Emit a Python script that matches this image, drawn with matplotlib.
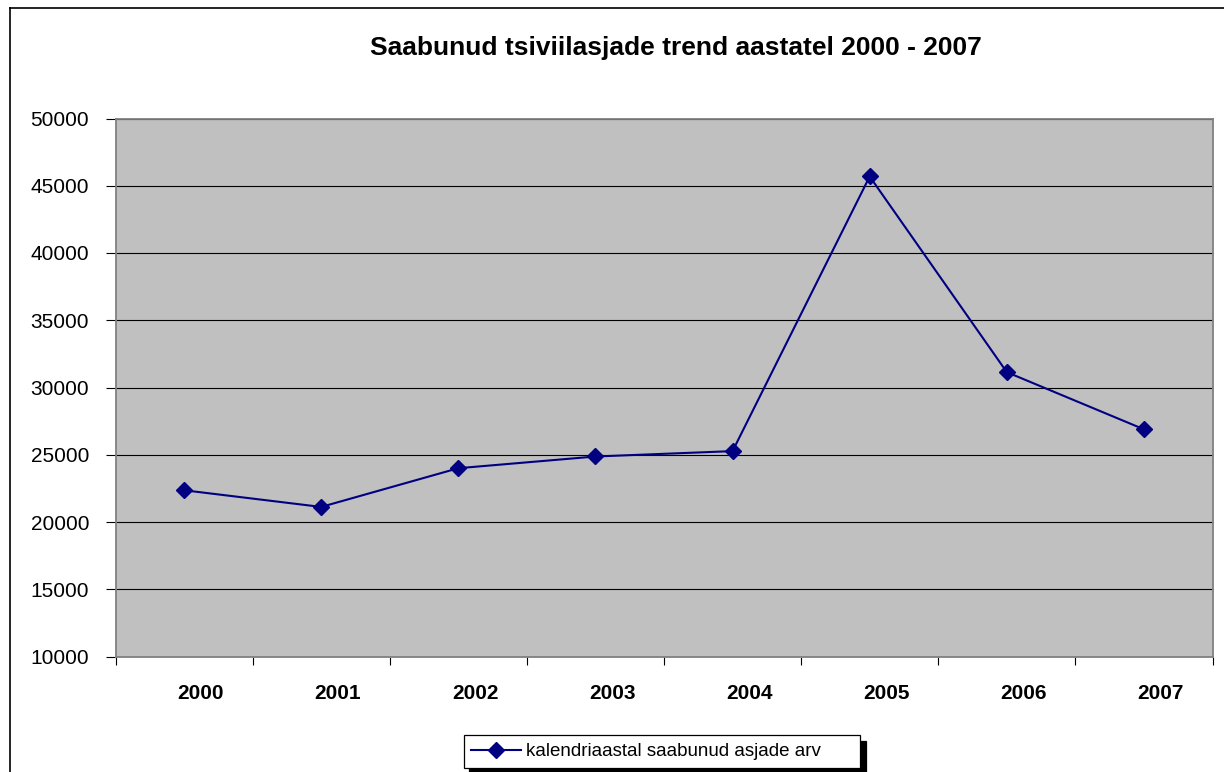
import matplotlib
matplotlib.use("Agg")
import matplotlib.pyplot as plt
from matplotlib.ticker import FixedLocator, NullFormatter
from matplotlib.lines import Line2D
from matplotlib.transforms import ScaledTranslation

years = ["2000", "2001", "2002", "2003", "2004", "2005", "2006", "2007"]
cases = [22360, 21120, 24000, 24870, 25270, 45690, 31140, 26890]
series_label = "kalendriaastal saabunud asjade arv"
title = "Saabunud tsiviilasjade trend aastatel 2000 - 2007"
y_ticks = [10000, 15000, 20000, 25000, 30000, 35000, 40000, 45000, 50000]

plt.rcParams['font.family'] = ['Liberation Sans', 'DejaVu Sans']

W, H = 1224, 772
fig = plt.figure(figsize=(W / 100, H / 100), dpi=100)
fig.patch.set_facecolor("white")

def fx(px):
    return px / W

def fy(py):
    return 1 - py / H

left, right, top, bottom = 115.5, 1212.5, 118.5, 656.5
ax = fig.add_axes([fx(left), fy(bottom), fx(right) - fx(left), fy(top) - fy(bottom)])
ax.set_facecolor("#C0C0C0")

x = list(range(len(years)))
ax.plot(x, cases, color="#000080", linewidth=1.5, marker="D", markersize=8,
        markerfacecolor="#000080", markeredgecolor="#000080", zorder=3,
        label=series_label + "      ")

ax.set_xlim(-0.5, len(years) - 0.5)
ax.set_ylim(10000, 50000)
ax.set_yticks(y_ticks)
ax.set_yticklabels([str(v) for v in y_ticks], fontsize=15)
ax.yaxis.grid(True, color="black", linewidth=0.8)
ax.set_axisbelow(True)
ax.tick_params(axis="y", length=7, width=0.8, color="black", pad=12)

ax.set_xticks(x)
ax.set_xticklabels(years, fontsize=15, fontweight="bold")
ax.tick_params(axis="x", which="major", length=0, pad=20)
shift = ScaledTranslation(0.167, 0, fig.dpi_scale_trans)
for lab in ax.get_xticklabels():
    lab.set_transform(lab.get_transform() + shift)
ax.xaxis.set_minor_locator(FixedLocator([i - 0.5 for i in range(len(years) + 1)]))
ax.xaxis.set_minor_formatter(NullFormatter())
ax.tick_params(axis="x", which="minor", length=5.5, width=0.8, color="black")

for s in ax.spines.values():
    s.set_color("#808080")
    s.set_linewidth(1.3)

fig.text(fx(676), fy(55), title, ha="center", va="baseline", fontsize=19, fontweight="bold")

leg = fig.legend(loc="center", bbox_to_anchor=(fx(662), fy(751.5)),
                 fontsize=13.5, frameon=True, fancybox=False, edgecolor="black",
                 handlelength=2.67, borderpad=0.4, handletextpad=0.27,
                 shadow={'ox': 4, 'oy': -4, 'color': 'black', 'alpha': 1})
leg.get_frame().set_linewidth(0.9)

# figure border (left and top)
fig.add_artist(Line2D([fx(10), fx(10)], [0, fy(8)], color="black", linewidth=1.2))
fig.add_artist(Line2D([fx(10), 1], [fy(8), fy(8)], color="black", linewidth=1.2))

fig.savefig("out.png", dpi=100)
